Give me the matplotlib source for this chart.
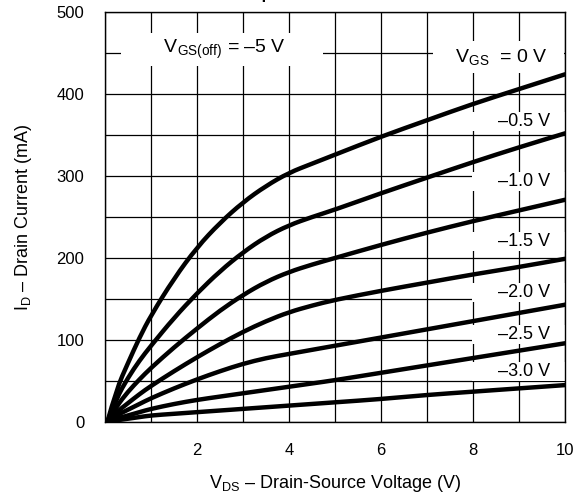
import matplotlib
matplotlib.use("Agg")
import matplotlib.pyplot as plt
from matplotlib.path import Path
from matplotlib.patches import PathPatch

plt.rcParams['font.family'] = ['Liberation Sans', 'DejaVu Sans']
plt.rcParams['mathtext.fontset'] = 'custom'
plt.rcParams['mathtext.rm'] = 'Liberation Sans'
plt.rcParams['mathtext.default'] = 'regular'

# Data
vds = [0.05, 0.25, 0.5, 0.75, 1, 1.5, 2, 2.5, 3, 3.5, 4, 4.5, 5, 6, 7, 8, 9, 10]
id_0v   = [0, 40, 72, 103, 130, 175, 213, 243, 268, 288, 304, 315, 326, 348, 368, 388, 406, 424]
id_m05v = [0, 29, 54, 75, 93, 127, 157, 184, 207, 226, 240, 250, 259, 279, 298, 317, 335, 352]
id_m10v = [0, 19, 37, 52, 66, 91, 114, 136, 155, 171, 183, 192, 200, 216, 231, 245, 258, 271]
id_m15v = [0, 12, 23, 34, 44, 62, 79, 95, 110, 123, 134, 142, 149, 160, 170, 180, 189, 199]
id_m20v = [0, 8, 15, 22, 29, 41, 52, 62, 71, 78, 83, 88, 93, 103, 113, 123, 133, 143]
id_m25v = [0, 4, 8, 12, 16, 22, 27, 31, 35, 39, 43, 47, 51, 60, 69, 78, 87, 96]
id_m30v = [0, 2, 4, 6, 8, 10, 12, 14, 16, 18, 20, 22, 24, 28, 33, 37, 41, 45]
series = [id_0v, id_m05v, id_m10v, id_m15v, id_m20v, id_m25v, id_m30v]

curve_labels = ["\u20130.5 V", "\u20131.0 V", "\u20131.5 V", "\u20132.0 V", "\u20132.5 V", "\u20133.0 V"]
curve_label_y = [361, 288, 215, 152, 101, 56]

x_ticks = [2, 4, 6, 8, 10]
y_ticks = [0, 100, 200, 300, 400, 500]

fig = plt.figure(figsize=(5.85, 4.99), dpi=100)
ax = fig.add_axes([105/585, 77/499, 460/585, 410/499])


def smooth_path(xs, ys):
    # quadratic Bezier path using the read points as control points
    pts = list(zip(xs, ys))
    verts = [pts[0]]
    codes = [Path.MOVETO]
    for i in range(1, len(pts) - 1):
        mid = ((pts[i][0] + pts[i + 1][0]) / 2, (pts[i][1] + pts[i + 1][1]) / 2)
        verts += [pts[i], mid]
        codes += [Path.CURVE3, Path.CURVE3]
    verts.append(pts[-1])
    codes.append(Path.LINETO)
    return Path(verts, codes)


for s in series:
    ax.add_patch(PathPatch(smooth_path(vds, s), fill=False, edgecolor='black',
                           lw=3.2, capstyle='round', joinstyle='round', zorder=3))

ax.set_xlim(0, 10)
ax.set_ylim(0, 500)
ax.set_xticks(range(0, 11))
ax.set_yticks(range(0, 501, 50))
ax.set_xticklabels([str(v) if v in x_ticks else '' for v in range(0, 11)])
ax.set_yticklabels([str(v) if v in y_ticks else '' for v in range(0, 501, 50)])
ax.tick_params(axis='both', length=0, labelsize=12)
ax.tick_params(axis='x', pad=15)
ax.tick_params(axis='y', pad=15)
ax.grid(True, color='black', lw=0.9)
ax.set_axisbelow(True)
for sp in ax.spines.values():
    sp.set_linewidth(1.0)

ax.set_xlabel("$V_{DS}$ \u2013 Drain-Source Voltage (V)", fontsize=13)
ax.xaxis.set_label_coords(0.5, -0.125)
ax.set_ylabel("$I_{D}$ \u2013 Drain Current (mA)", fontsize=13)
ax.yaxis.set_label_coords(-0.155, 0.5)

box = dict(boxstyle='square,pad=0.05', fc='white', ec='none')
ax.text(2.54, 450, "       $V_{GS(off)}$ = \u20135 V       ", ha='center', va='baseline',
        fontsize=14, bbox=dict(boxstyle='square,pad=0.25', fc='white', ec='none'), zorder=2)
ax.text(8.56, 439, "   $V_{GS}$  = 0 V   ", ha='center', va='baseline',
        fontsize=14, bbox=dict(boxstyle='square,pad=0.3', fc='white', ec='none'), zorder=2)
for lab, yy in zip(curve_labels, curve_label_y):
    ax.text(9.0, yy, "     " + lab + "   ", ha='center', va='baseline',
            fontsize=13, bbox=box, zorder=2)

fig.text(233/585, 1.003, "Output Characteristics", ha='left', va='baseline',
         fontsize=12, fontweight='bold')

fig.savefig("out.png", dpi=100)
